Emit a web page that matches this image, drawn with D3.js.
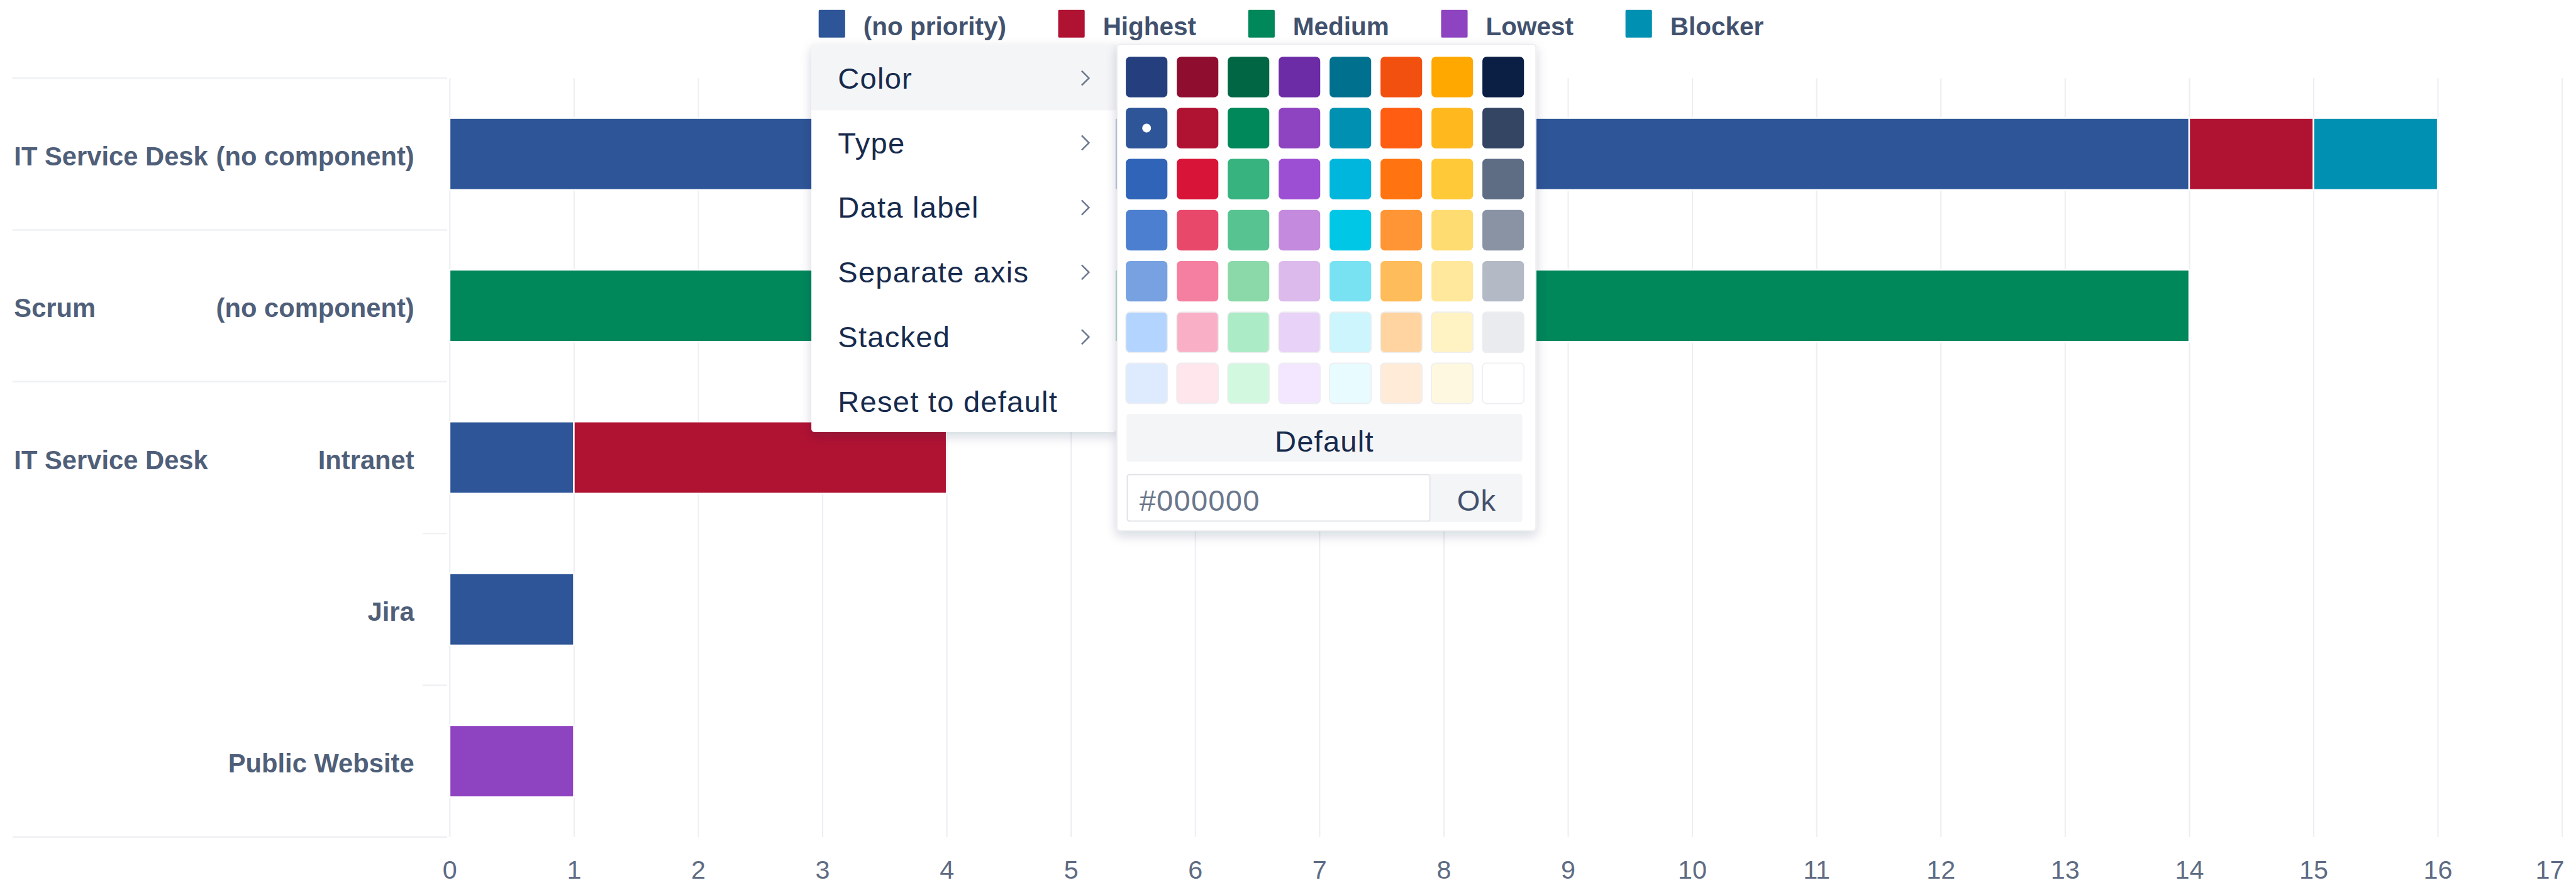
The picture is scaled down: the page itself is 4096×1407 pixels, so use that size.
<!DOCTYPE html>
<html>
  <head>
    <meta charset="utf-8">
    <title>Issues by component and priority</title>
    <script src="https://cdn.jsdelivr.net/npm/d3@7/dist/d3.min.js"></script>
    <style>
html, body {
  margin: 0;
  padding: 0;
  background: #fff;
}

svg {
  display: block;
  font-family: "Liberation Sans", Arial, sans-serif;
}

.grid line {
  stroke: #eceef2;
  stroke-width: 2.5px;
}

.sep {
  stroke: #eff0f3;
  stroke-width: 3px;
}

.tick text {
  font-size: 50px;
  fill: #5e6c84;
}

.cat {
  font-size: 50.5px;
  font-weight: bold;
  fill: #505f79;
}

.legend text {
  font-size: 49px;
  font-weight: bold;
  fill: #42526e;
}

.menu text {
  font-size: 57px;
  letter-spacing: 1.5px;
  fill: #172b4d;
}

.chev {
  fill: none;
  stroke: #6b778c;
  stroke-width: 3px;
}
    </style>
  </head>
  <body>
    <script>

// rows of the chart: project group + component
var projects   = ["IT Service Desk", "Scrum", "IT Service Desk", "", ""];
var components = ["(no component)", "(no component)", "Intranet", "Jira", "Public Website"];
// long separator lines at these row boundaries (0 = top, 5 = bottom)
var groupBreaks = [0, 1, 2, 5];

var seriesNames  = ["(no priority)", "Highest", "Medium", "Lowest", "Blocker"];
var seriesColors = ["#2e5597", "#b01232", "#00875a", "#8e44c1", "#0090b2"];

var noPriority = [14, 0, 1, 1, 0];
var highest    = [1, 0, 3, 0, 0];
var medium     = [0, 14, 0, 0, 0];
var lowest     = [0, 0, 0, 0, 1];
var blocker    = [1, 0, 0, 0, 0];

var xTicks = d3.range(0, 18);

var menuItems = ["Color", "Type", "Data label", "Separate axis", "Stacked", "Reset to default"];

var palette = [
  ["#253f7e", "#8f0d2f", "#006644", "#6b2ca6", "#00708f", "#f2500f", "#ffa800", "#0b1e44"],
  ["#2e5597", "#b01232", "#00875a", "#8e44c1", "#0090b2", "#ff5d12", "#ffb91f", "#344563"],
  ["#2f64b8", "#d81438", "#36b37e", "#9d4fd4", "#00b6dc", "#ff7410", "#ffc937", "#5e6c84"],
  ["#4c7fd0", "#e8496b", "#57c391", "#c38ade", "#00c7e6", "#ff9535", "#ffdc71", "#8993a4"],
  ["#77a1e0", "#f57fa0", "#8bd9a9", "#dcbaeb", "#79e2f2", "#ffbc5b", "#ffe89c", "#b3bac5"],
  ["#b3d4ff", "#f9b0c6", "#abebc6", "#e8d2f7", "#ccf5fd", "#ffd4a0", "#fff3c4", "#e9ebef"],
  ["#deebff", "#ffe5ec", "#d2f9e0", "#f3e7ff", "#e8fbff", "#ffebd8", "#fff8e0", "#ffffff"]
];

var W = 4956, H = 1702;

var svg = d3.select("body").append("svg")
    .attr("width", 4096)
    .attr("height", 1407)
    .attr("viewBox", "0 0 " + W + " " + H);

var defs = svg.append("defs");
var f = defs.append("filter").attr("id", "shadow")
    .attr("x", "-10%").attr("y", "-10%").attr("width", "120%").attr("height", "125%");
f.append("feDropShadow")
    .attr("dx", 0).attr("dy", 8).attr("stdDeviation", 10)
    .attr("flood-color", "#091e42").attr("flood-opacity", 0.18);

var plotTop = 150, plotBottom = 1610, labelLeft = 24;

var x = d3.scaleLinear().domain([0, 17]).range([865, 4929]);
var y = d3.scaleBand().domain(d3.range(components.length)).range([plotTop, plotBottom]);
var barH = y.bandwidth() * 0.474;

// vertical grid + tick labels
var axis = svg.append("g")
    .attr("class", "grid")
    .attr("transform", "translate(0," + plotBottom + ")")
    .call(d3.axisBottom(x)
      .tickValues(xTicks)
      .tickFormat(d3.format("d"))
      .tickSize(-(plotBottom - plotTop))
      .tickPadding(45));
axis.select(".domain").remove();
axis.attr("font-family", null).attr("font-size", null);
axis.selectAll(".tick")
    .filter(function(d) { return d === 17; })
    .select("text")
    .attr("text-anchor", "end")
    .attr("x", 4);

// category separators
svg.append("g").selectAll("line")
    .data(d3.range(components.length + 1))
  .join("line")
    .attr("class", "sep")
    .attr("x1", function(i) { return groupBreaks.indexOf(i) >= 0 ? labelLeft : 813; })
    .attr("x2", 860)
    .attr("y1", function(i) { return plotTop + i * y.bandwidth(); })
    .attr("y2", function(i) { return plotTop + i * y.bandwidth(); });

// category labels
var cats = svg.append("g").selectAll("g")
    .data(components)
  .join("g")
    .attr("transform", function(d, i) { return "translate(0," + (y(i) + y.bandwidth() / 2 + 22) + ")"; });

cats.append("text")
    .attr("class", "cat")
    .attr("x", labelLeft + 3)
    .text(function(d, i) { return projects[i]; });

cats.append("text")
    .attr("class", "cat")
    .attr("x", 797)
    .attr("text-anchor", "end")
    .text(function(d) { return d; });

// stacked bars
var rows = components.map(function(c, i) {
  return {
    "(no priority)": noPriority[i],
    "Highest": highest[i],
    "Medium": medium[i],
    "Lowest": lowest[i],
    "Blocker": blocker[i]
  };
});

var stack = d3.stack().keys(seriesNames)(rows);

svg.append("g").selectAll("g")
    .data(stack)
  .join("g")
    .attr("fill", function(d, i) { return seriesColors[i]; })
  .selectAll("rect")
    .data(function(d) {
      return d.map(function(v, i) { return {v: v, i: i}; })
        .filter(function(s) { return s.v[1] > s.v[0]; });
    })
  .join("rect")
    .attr("x", function(d) { return x(d.v[0]); })
    .attr("width", function(d) { return x(d.v[1]) - x(d.v[0]); })
    .attr("y", function(d) { return y(d.i) + (y.bandwidth() - barH) / 2; })
    .attr("height", barH)
    .attr("stroke", "#fff")
    .attr("stroke-width", 3);

// legend, laid out from measured text widths and centred
var legend = svg.append("g").attr("class", "legend");
var items = legend.selectAll("g")
    .data(seriesNames)
  .join("g");

items.append("rect")
    .attr("y", 19)
    .attr("width", 51)
    .attr("height", 53)
    .attr("rx", 2)
    .attr("fill", function(d, i) { return seriesColors[i]; });

items.append("text")
    .attr("x", 86)
    .attr("y", 68)
    .text(function(d) { return d; });

var offs = [], acc = 0;
items.each(function() {
  offs.push(acc);
  acc += 86 + this.querySelector("text").getComputedTextLength() + 100;
});
acc -= 100;
var legendX = 2484 - acc / 2;
items.attr("transform", function(d, i) { return "translate(" + (legendX + offs[i]) + ",0)"; });

// context menu
var menu = svg.append("g").attr("class", "menu");
var mx = 1561, my = 85, mw = 586, rowH = 124.5;

menu.append("rect")
    .attr("x", mx).attr("y", my)
    .attr("width", mw).attr("height", 746)
    .attr("rx", 6)
    .attr("fill", "#fff")
    .attr("filter", "url(#shadow)");

menu.append("rect")
    .attr("x", mx).attr("y", my)
    .attr("width", mw).attr("height", 127)
    .attr("fill", "#f4f5f7");

var mi = menu.selectAll("g.item")
    .data(menuItems)
  .join("g")
    .attr("class", "item")
    .attr("transform", function(d, i) { return "translate(0," + (170 + i * rowH) + ")"; });

mi.append("text")
    .attr("x", 1612)
    .text(function(d) { return d; });

mi.filter(function(d, i) { return i < menuItems.length - 1; })
  .append("path")
    .attr("class", "chev")
    .attr("d", "M2081,-34 L2095,-20 L2081,-6");

// colour picker
var pk = svg.append("g").attr("class", "menu");
var px = 2149, py = 85;

pk.append("rect")
    .attr("x", px).attr("y", py)
    .attr("width", 806).attr("height", 936)
    .attr("rx", 6)
    .attr("fill", "#fff")
    .attr("stroke", "#ebecf0")
    .attr("stroke-width", 2)
    .attr("filter", "url(#shadow)");

var cells = [];
palette.forEach(function(row, r) {
  row.forEach(function(c, k) { cells.push({r: r, k: k, c: c}); });
});

pk.append("g").selectAll("rect")
    .data(cells)
  .join("rect")
    .attr("x", function(d) { return 2166 + d.k * 98; })
    .attr("y", function(d) { return 109 + d.r * 98.2; })
    .attr("width", 80)
    .attr("height", 78)
    .attr("rx", 8)
    .attr("fill", function(d) { return d.c; })
    .attr("stroke", function(d) { return d.r >= 5 ? "#edeef1" : "none"; })
    .attr("stroke-width", 2);

// selected swatch marker
pk.append("circle")
    .attr("cx", 2166 + 40)
    .attr("cy", 109 + 98.2 + 39)
    .attr("r", 8.5)
    .attr("fill", "#fff");

pk.append("rect")
    .attr("x", 2167).attr("y", 796)
    .attr("width", 762).attr("height", 92)
    .attr("rx", 6)
    .attr("fill", "#f4f5f7");

pk.append("text")
    .attr("x", 2548).attr("y", 869)
    .attr("text-anchor", "middle")
    .text("Default");

pk.append("rect")
    .attr("x", 2167).attr("y", 911)
    .attr("width", 762).attr("height", 93)
    .attr("rx", 6)
    .attr("fill", "#f4f5f7");

pk.append("rect")
    .attr("x", 2169).attr("y", 913)
    .attr("width", 582).attr("height", 89)
    .attr("rx", 4)
    .attr("fill", "#fff")
    .attr("stroke", "#dfe1e6")
    .attr("stroke-width", 2);

pk.append("text")
    .attr("x", 2192).attr("y", 982)
    .style("fill", "#6b778c")
    .text("#000000");

pk.append("text")
    .attr("x", 2841).attr("y", 982)
    .attr("text-anchor", "middle")
    .style("fill", "#42526e")
    .text("Ok");

    </script>
  </body>
</html>
